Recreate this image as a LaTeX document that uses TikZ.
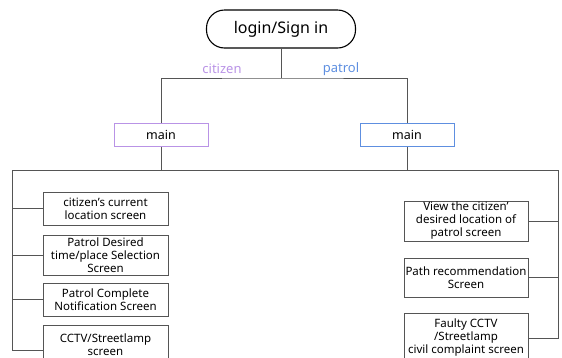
\documentclass[tikz,border=0pt]{standalone}
\usepackage{fontspec}
\setmainfont{Noto Sans}
\usetikzlibrary{positioning}
\definecolor{citC}{HTML}{B993E6}
\definecolor{patC}{HTML}{5E8FE0}
\definecolor{lineC}{HTML}{555555}
\tikzset{
  wire/.style={draw=lineC, line width=0.8pt},
  scr/.style={draw=lineC, line width=0.9pt, align=center, inner sep=1pt,
    font=\fontsize{11.5}{13}\selectfont},
  mainbox/.style={draw, line width=1pt, minimum width=94pt, minimum height=23pt,
    font=\fontsize{12.5}{14}\selectfont}
}

\begin{document}
\begin{tikzpicture}[x=1pt,y=-1pt]
\useasboundingbox (0,0) rectangle (562,357);
% top
\node[draw, line width=1.1pt, rounded corners=18pt, minimum width=149pt, minimum height=38pt,
  font=\fontsize{16}{18}\selectfont] (login) at (281,29) {login/Sign in};
\node[mainbox, draw=citC] (mainC) at (161,134.5) {main};
\node[mainbox, draw=patC] (mainP) at (407,134.5) {main};
\node[text=citC, font=\fontsize{13}{14}\selectfont] (citL) at (222,69) {citizen};
\node[text=patC, font=\fontsize{13}{14}\selectfont] (patL) at (341,69) {patrol};
\coordinate (fork) at (281,78);
\draw[wire] (login.south) -- (fork);
\draw[wire] (mainC.north) |- (fork) -| (mainP.north);
% bottom rail
\coordinate (tl) at (12,170);
\coordinate (tr) at (558,170);
\draw[wire] (tl) -- (tr);
\draw[wire] (mainC.south) -- (mainC.south |- tl);
\draw[wire] (mainP.south) -- (mainP.south |- tl);
% citizen screens
\node[scr, minimum width=125pt, minimum height=33pt] (c1) at (105.5,208.5) {citizen's current\\location screen};
\node[scr, minimum width=125pt, minimum height=40pt] (c2) at (105.5,255) {Patrol Desired\\time/place Selection\\Screen};
\node[scr, minimum width=125pt, minimum height=33pt] (c3) at (105.5,299.5) {Patrol Complete\\Notification Screen};
\node[scr, minimum width=125pt, minimum height=40pt] (c4) at (105.5,345) {CCTV/Streetlamp\\screen};
\foreach \b in {c1,c2,c3} \draw[wire] (\b.west) -- (\b.west -| tl);
\draw[wire] (tl) |- ([yshift=-5pt]c4.west);
% patrol screens
\node[scr, minimum width=124pt, minimum height=40pt] (r1) at (466,221) {View the citizen'\\desired location of\\patrol screen};
\node[scr, minimum width=124pt, minimum height=39pt] (r2) at (466,277.5) {Path recommendation\\Screen};
\node[scr, minimum width=124pt, minimum height=50pt] (r3) at (466,338) {Faulty CCTV\\/Streetlamp\\civil complaint screen};
\foreach \b in {r1,r2} \draw[wire] (\b.east) -- (\b.east -| tr);
\draw[wire] (tr) |- (r3.east);
\end{tikzpicture}
\end{document}
